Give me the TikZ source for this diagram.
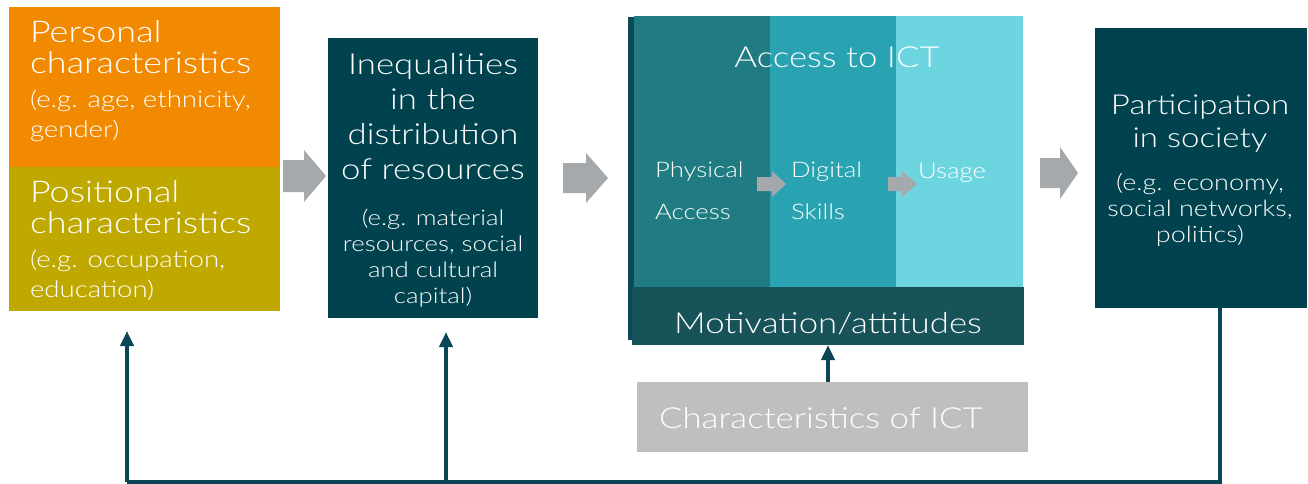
\documentclass[tikz,border=0pt]{standalone}
\usepackage{fontspec}
\setmainfont{Lato Light}[FakeStretch=1.2]
\usetikzlibrary{arrows.meta,calc}

\definecolor{persC}{HTML}{F18A00}
\definecolor{posC}{HTML}{BFA900}
\definecolor{boxC}{HTML}{00434F}
\definecolor{colA}{HTML}{207C82}
\definecolor{colB}{HTML}{29A3B1}
\definecolor{colC}{HTML}{6CD5E0}
\definecolor{motC}{HTML}{175358}
\definecolor{stripC}{HTML}{0B4A58}
\definecolor{arrowC}{HTML}{A6A9AC}
\definecolor{ictC}{HTML}{BFBFBF}
\definecolor{lineC}{HTML}{0A4656}

% grey block arrow: start x, head x, tip x, centre y, shaft half-height, head half-height
\newcommand{\BlockArr}[6]{%
  \fill[arrowC] (#1,#4-#5) -- (#2,#4-#5) -- (#2,#4-#6) -- (#3,#4)
    -- (#2,#4+#6) -- (#2,#4+#5) -- (#1,#4+#5) -- cycle;}

\begin{document}
\begin{tikzpicture}[x=1pt,y=-1pt,
  panel/.style={draw=none,inner sep=0pt,outer sep=0pt,anchor=north west},
  txt/.style={text=white,inner sep=0pt,outer sep=0pt},
  big/.style={font=\fontsize{30}{31}\selectfont},
  small/.style={font=\fontsize{23}{30}\selectfont},
  feedback/.style={draw=lineC,line width=4pt},
  tip/.style={-{Triangle[width=13pt,length=15pt]}}
]
\useasboundingbox (0,0) rectangle (1308,484);

% left column: personal and positional characteristics
\node[panel,fill=persC,minimum width=271pt,minimum height=160pt] (pers) at (9,7) {};
\node[panel,fill=posC,minimum width=271pt,minimum height=144pt] (pos) at (9,167) {};
\node[txt,big,align=left,anchor=north west] (persT) at (30,21) {Personal\\characteristics};
\node[txt,small,align=left,anchor=north west] (persS) at (30,90) {(e.g. age, ethnicity,\\gender)};
\node[txt,big,align=left,anchor=north west] (posT) at (30,181) {Positional\\characteristics};
\node[txt,small,align=left,anchor=north west] (posS) at (30,250) {(e.g. occupation,\\education)};

% resources
\node[panel,fill=boxC,minimum width=210pt,minimum height=280pt] (res) at (328,38) {};
\node[txt,font=\fontsize{29}{35}\selectfont,align=center,anchor=north] (resT) at (433,53) {Inequalities\\in the\\distribution\\of resources};
\node[txt,font=\fontsize{21.5}{26}\selectfont,align=center,anchor=north] (resS) at (433,209) {(e.g. material\\resources, social\\and cultural\\capital)};

% access block
\fill[stripC] (628,17) rectangle (634,340);
\node[panel,fill=colA,minimum width=136pt,minimum height=271pt] (phys) at (634,16) {};
\node[panel,fill=colB,minimum width=126pt,minimum height=271pt] (skill) at (770,16) {};
\node[panel,fill=colC,minimum width=127pt,minimum height=271pt] (use) at (896,16) {};
\node[panel,fill=motC,minimum width=392pt,minimum height=58pt] (mot) at (632,287) {};
\node[txt,font=\fontsize{29}{34}\selectfont,anchor=north] (accT) at (837,47) {Access to ICT};
\node[txt,font=\fontsize{21.5}{42}\selectfont,align=left,anchor=north west] (physT) at (655,162) {Physical\\Access};
\node[txt,font=\fontsize{21.5}{42}\selectfont,align=left,anchor=north west] (skillT) at (791,162) {Digital\\Skills};
\node[txt,font=\fontsize{21.5}{42}\selectfont,align=left,anchor=north west] (useT) at (918,163) {Usage};
\node[txt,font=\fontsize{29}{34}\selectfont,anchor=north] (motT) at (828,312) {Motivation/attitudes};

% participation
\node[panel,fill=boxC,minimum width=212pt,minimum height=280pt] (part) at (1095,28) {};
\node[txt,font=\fontsize{27.5}{33}\selectfont,align=center,anchor=north] (partT) at (1200,95) {Participation\\in society};
\node[txt,font=\fontsize{22.5}{26}\selectfont,align=center,anchor=north] (partS) at (1200,173) {(e.g. economy,\\social networks,\\politics)};

% characteristics of ICT
\node[panel,fill=ictC,minimum width=391pt,minimum height=70pt] (ict) at (637,382) {};
\node[txt,font=\fontsize{29}{33}\selectfont,anchor=north west] (ictT) at (659,407) {Characteristics of ICT};

% grey block arrows
\BlockArr{283}{304}{326}{176}{16}{26}
\BlockArr{563}{586}{608}{178}{15}{25}
\BlockArr{1040}{1060}{1078}{173}{15}{26}
\BlockArr{757}{772}{786}{184}{7}{13}
\BlockArr{888}{902}{917}{184}{7}{13}

% feedback loop
\coordinate (fbR) at (1220,482);
\coordinate (fbL) at (127,482);
\coordinate (fbM) at (446,482);
\draw[feedback,line join=miter] (part.south -| fbR) -- (fbR) -- (fbL);
\draw[feedback,tip,shorten >=20pt] (fbL) -- (pos.south -| fbL);
\draw[feedback,tip,shorten >=14pt] (fbM) -- (res.south -| fbM);
\draw[feedback,tip] (ict.north -| 828,0) -- (mot.south -| 828,0);
\end{tikzpicture}
\end{document}
